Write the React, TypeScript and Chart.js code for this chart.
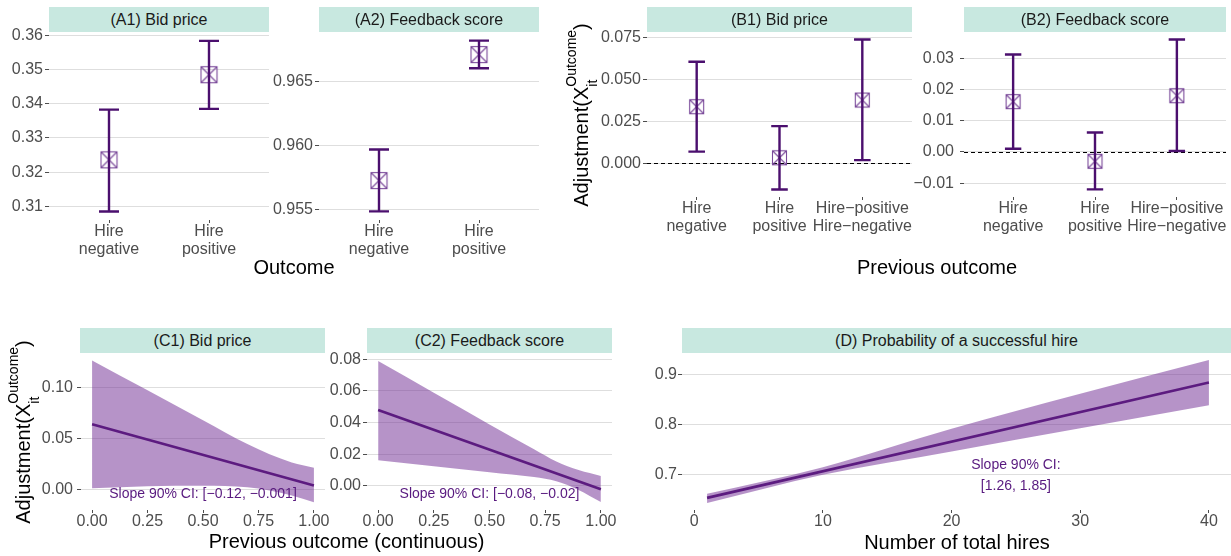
import React, { useEffect, useRef } from 'react';
import { Chart, registerables } from 'chart.js';

Chart.register(...registerables);

const FONT = "'Liberation Sans', Arial, Helvetica, sans-serif";
const PURPLE = '#4b0f6e';
const MARK = '#7a4a9a';
const BAND = 'rgba(110, 40, 145, 0.5)';
const NOTE = '#58197f';
const STRIP = '#c8e8e0';
const TICK_TEXT = '#4d4d4d';
const TICK_MARK = '#4d4d4d';
const GRID = '#dedede';

// ---- (A) value by outcome ----
const outcomeLabels = [['Hire', 'negative'], ['Hire', 'positive']];
const a1Est = [0.3236, 0.3485];
const a1Lo = [0.3085, 0.3385];
const a1Hi = [0.3383, 0.3584];
const a1Ticks = [0.31, 0.32, 0.33, 0.34, 0.35, 0.36];
const a2Est = [0.95727, 0.96709];
const a2Lo = [0.95487, 0.96602];
const a2Hi = [0.95969, 0.96818];
const a2Ticks = [0.955, 0.96, 0.965];

// ---- (B) adjustment by previous outcome ----
const prevLabels = [['Hire', 'negative'], ['Hire', 'positive'], ['Hire\u2212positive', 'Hire\u2212negative']];
const b1Est = [0.0339, 0.0034, 0.0379];
const b1Lo = [0.0071, -0.0155, 0.002];
const b1Hi = [0.0607, 0.0223, 0.074];
const b1Ticks = [0, 0.025, 0.05, 0.075];
const b2Est = [0.0161, -0.003, 0.018];
const b2Lo = [0.001, -0.012, 0.0003];
const b2Hi = [0.0312, 0.0062, 0.036];
const b2Ticks = [-0.01, 0, 0.01, 0.02, 0.03];

// ---- (C) adjustment vs continuous previous outcome ----
const contTicks = [0, 0.25, 0.5, 0.75, 1];
const c1LineX = [0, 1];
const c1Line = [0.064, 0.0039];
const c1BandX = [0, 0.25, 0.5, 0.7, 0.8, 0.9, 1];
const c1Upper = [0.1268, 0.0975, 0.068, 0.0445, 0.0345, 0.0265, 0.0212];
const c1Lower = [0.001, 0.003, 0.0035, 0.002, -0.001, -0.006, -0.0127];
const c1Ticks = [0, 0.05, 0.1];
const c2LineX = [0, 1];
const c2Line = [0.048, -0.0021];
const c2BandX = [0, 0.25, 0.5, 0.7, 0.8, 0.9, 1];
const c2Upper = [0.0789, 0.0589, 0.0389, 0.0232, 0.0155, 0.01, 0.0063];
const c2Lower = [0.0163, 0.0125, 0.0087, 0.0056, 0.003, -0.0025, -0.0102];
const c2Ticks = [0, 0.02, 0.04, 0.06, 0.08];

// ---- (D) probability of a successful hire ----
const dLineX = [1, 40];
const dLine = [0.6534, 0.8835];
const dBandX = [1, 10, 20, 30, 40];
const dUpper = [0.6614, 0.7145, 0.791, 0.861, 0.928];
const dLower = [0.6434, 0.6995, 0.746, 0.792, 0.838];
const dXTicks = [0, 10, 20, 30, 40];
const dYTicks = [0.7, 0.8, 0.9];

const PAD = 16;
const YW = 60;

const fmt = (v: number, dec: number) => v.toFixed(dec).replace('-', '\u2212');

function makeMarker(side: number) {
  const s = side + 3;
  const c = document.createElement('canvas');
  c.width = s;
  c.height = s;
  const g = c.getContext('2d')!;
  g.strokeStyle = MARK;
  g.lineWidth = 1.1;
  g.strokeRect(1.5, 1.5, s - 3, s - 3);
  g.beginPath();
  g.moveTo(1.5, 1.5);
  g.lineTo(s - 1.5, s - 1.5);
  g.moveTo(s - 1.5, 1.5);
  g.lineTo(1.5, s - 1.5);
  g.stroke();
  return c;
}

function yAxis(min: number, max: number, ticks: number[], dec: number, pad: number, tl: number) {
  return {
    type: 'linear',
    min,
    max,
    afterBuildTicks: (s: any) => {
      s.ticks = ticks.map((v) => ({ value: v }));
    },
    afterFit: (s: any) => {
      s.width = YW;
    },
    ticks: {
      autoSkip: false,
      padding: pad,
      color: TICK_TEXT,
      font: { family: FONT, size: 16 },
      callback: (v: number) => fmt(v, dec),
    },
    grid: { color: GRID, lineWidth: 1, drawTicks: true, tickLength: tl, tickColor: TICK_MARK },
    border: { display: false },
  };
}

function xAxis(min: number, max: number, ticks: number[], label: (v: number) => any, xH: number) {
  return {
    type: 'linear',
    min,
    max,
    afterBuildTicks: (s: any) => {
      s.ticks = ticks.map((v) => ({ value: v }));
    },
    afterFit: (s: any) => {
      s.height = xH;
    },
    ticks: {
      autoSkip: false,
      maxRotation: 0,
      minRotation: 0,
      padding: 0,
      color: TICK_TEXT,
      font: { family: FONT, size: 16, lineHeight: 1.1 },
      callback: (v: number) => label(v),
    },
    grid: { drawOnChartArea: false, drawTicks: true, tickLength: 3, tickColor: TICK_MARK },
    border: { display: false },
  };
}

const baseOptions = {
  animation: false,
  responsive: false,
  maintainAspectRatio: false,
  events: [],
  layout: { padding: PAD },
};

function errorBarConfig(o: any) {
  const marker = makeMarker(o.mark);
  const n = o.labels.length;
  const errorBars = {
    id: 'errorBars',
    afterDatasetsDraw(chart: any) {
      const { ctx, scales } = chart;
      const x = scales.x;
      const y = scales.y;
      ctx.save();
      ctx.strokeStyle = PURPLE;
      ctx.lineWidth = 2.4;
      ctx.lineCap = 'butt';
      o.lo.forEach((lo: number, i: number) => {
        const c = i + 1;
        const px = x.getPixelForValue(c);
        const x0 = x.getPixelForValue(c - 0.1);
        const x1 = x.getPixelForValue(c + 0.1);
        const yl = y.getPixelForValue(lo);
        const yh = y.getPixelForValue(o.hi[i]);
        ctx.beginPath();
        ctx.moveTo(px, yl);
        ctx.lineTo(px, yh);
        ctx.moveTo(x0, yl);
        ctx.lineTo(x1, yl);
        ctx.moveTo(x0, yh);
        ctx.lineTo(x1, yh);
        ctx.stroke();
      });
      ctx.restore();
    },
  };
  const zeroLine = {
    id: 'zeroLine',
    beforeDatasetsDraw(chart: any) {
      if (!o.zero) return;
      const { ctx, chartArea, scales } = chart;
      const py = Math.round(scales.y.getPixelForValue(0)) + 0.5;
      ctx.save();
      ctx.strokeStyle = '#000';
      ctx.lineWidth = 1;
      ctx.setLineDash([4, 3]);
      ctx.beginPath();
      ctx.moveTo(chartArea.left, py);
      ctx.lineTo(chartArea.right, py);
      ctx.stroke();
      ctx.restore();
    },
  };
  return {
    type: 'scatter',
    data: {
      datasets: [
        {
          data: o.est.map((v: number, i: number) => ({ x: i + 1, y: v })),
          pointStyle: marker,
          pointRadius: o.mark / 2,
          borderWidth: 0,
        },
      ],
    },
    options: {
      ...baseOptions,
      plugins: { legend: { display: false }, tooltip: { enabled: false } },
      scales: {
        x: xAxis(0.4, n + 0.6, o.labels.map((_: any, i: number) => i + 1), (v) => o.labels[Math.round(v) - 1], o.xH),
        y: yAxis(o.yMin, o.yMax, o.yTicks, o.dec, o.yPad, o.yTl),
      },
    },
    plugins: [zeroLine, errorBars],
  };
}

function bandConfig(o: any) {
  const notes = {
    id: 'notes',
    afterDatasetsDraw(chart: any) {
      const { ctx, scales } = chart;
      const px = scales.x.getPixelForValue(o.noteX);
      const py = scales.y.getPixelForValue(o.noteY);
      ctx.save();
      ctx.fillStyle = NOTE;
      ctx.font = `14px ${FONT}`;
      ctx.textAlign = 'center';
      ctx.textBaseline = 'middle';
      const k = o.note.length;
      o.note.forEach((t: string, i: number) => {
        ctx.fillText(t, px, py + (i - (k - 1) / 2) * 20.5);
      });
      ctx.restore();
    },
  };
  const pts = (xs: number[], ys: number[]) => xs.map((x, i) => ({ x, y: ys[i] }));
  return {
    type: 'line',
    data: {
      datasets: [
        {
          data: pts(o.bandX, o.lower),
          borderColor: 'rgba(0,0,0,0)',
          borderWidth: 0,
          pointRadius: 0,
          fill: false,
          cubicInterpolationMode: 'monotone',
        },
        {
          data: pts(o.bandX, o.upper),
          borderColor: 'rgba(0,0,0,0)',
          borderWidth: 0,
          pointRadius: 0,
          backgroundColor: BAND,
          fill: '-1',
          cubicInterpolationMode: 'monotone',
        },
        {
          data: pts(o.lineX, o.line),
          borderColor: PURPLE,
          borderWidth: 2.6,
          pointRadius: 0,
          fill: false,
        },
      ],
    },
    options: {
      ...baseOptions,
      plugins: { legend: { display: false }, tooltip: { enabled: false } },
      scales: {
        x: xAxis(o.xMin, o.xMax, o.xTicks, (v) => fmt(v, o.xDec), o.xH),
        y: yAxis(o.yMin, o.yMax, o.yTicks, o.yDec, o.yPad, o.yTl),
      },
    },
    plugins: [notes],
  };
}

type Box = { l: number; t: number; r: number; b: number };
type Spec = { box: Box; xH: number; strip: string; stripBox: Box; make: () => any };

const panels: Spec[] = [
  {
    box: { l: 49, t: 32, r: 269, b: 220 },
    xH: 46,
    strip: '(A1) Bid price',
    stripBox: { l: 49, t: 7, r: 269, b: 32 },
    make: () =>
      errorBarConfig({ labels: outcomeLabels, est: a1Est, lo: a1Lo, hi: a1Hi, yMin: 0.306, yMax: 0.361, yTicks: a1Ticks, dec: 2, mark: 16, xH: 46, yPad: 2, yTl: 4 }),
  },
  {
    box: { l: 319, t: 32, r: 539, b: 220 },
    xH: 46,
    strip: '(A2) Feedback score',
    stripBox: { l: 319, t: 7, r: 539, b: 32 },
    make: () =>
      errorBarConfig({ labels: outcomeLabels, est: a2Est, lo: a2Lo, hi: a2Hi, yMin: 0.9542, yMax: 0.96885, yTicks: a2Ticks, dec: 3, mark: 16, xH: 46, yPad: 2, yTl: 4 }),
  },
  {
    box: { l: 647, t: 32, r: 912, b: 197 },
    xH: 46,
    strip: '(B1) Bid price',
    stripBox: { l: 647, t: 7, r: 912, b: 32 },
    make: () =>
      errorBarConfig({ labels: prevLabels, est: b1Est, lo: b1Lo, hi: b1Hi, yMin: -0.02, yMax: 0.0785, yTicks: b1Ticks, dec: 3, mark: 14, xH: 46, yPad: 2, yTl: 4, zero: true }),
  },
  {
    box: { l: 964, t: 32, r: 1226, b: 197 },
    xH: 46,
    strip: '(B2) Feedback score',
    stripBox: { l: 964, t: 7, r: 1226, b: 32 },
    make: () =>
      errorBarConfig({ labels: prevLabels, est: b2Est, lo: b2Lo, hi: b2Hi, yMin: -0.01444, yMax: 0.0384, yTicks: b2Ticks, dec: 2, mark: 14, xH: 46, yPad: 6, yTl: 4, zero: true }),
  },
  {
    box: { l: 81, t: 352, r: 325, b: 510 },
    xH: 26,
    strip: '(C1) Bid price',
    stripBox: { l: 80, t: 328, r: 325, b: 353 },
    make: () =>
      bandConfig({
        bandX: c1BandX, upper: c1Upper, lower: c1Lower, lineX: c1LineX, line: c1Line,
        xMin: -0.05, xMax: 1.05, xTicks: contTicks, xDec: 2,
        yMin: -0.0203, yMax: 0.1351, yTicks: c1Ticks, yDec: 2, yPad: 4, yTl: 4, xH: 26,
        noteX: 0.5, noteY: -0.0046, note: ['Slope 90% CI: [\u22120.12, \u22120.001]'],
      }),
  },
  {
    box: { l: 367, t: 353, r: 612, b: 510 },
    xH: 26,
    strip: '(C2) Feedback score',
    stripBox: { l: 367, t: 328, r: 612, b: 353 },
    make: () =>
      bandConfig({
        bandX: c2BandX, upper: c2Upper, lower: c2Lower, lineX: c2LineX, line: c2Line,
        xMin: -0.05, xMax: 1.05, xTicks: contTicks, xDec: 2,
        yMin: -0.0152, yMax: 0.084, yTicks: c2Ticks, yDec: 2, yPad: 2, yTl: 4, xH: 26,
        noteX: 0.5, noteY: -0.005, note: ['Slope 90% CI: [\u22120.08, \u22120.02]'],
      }),
  },
  {
    box: { l: 682, t: 353, r: 1234, b: 510 },
    xH: 26,
    strip: '(D) Probability of a successful hire',
    stripBox: { l: 682, t: 328, r: 1231, b: 353 },
    make: () =>
      bandConfig({
        bandX: dBandX, upper: dUpper, lower: dLower, lineX: dLineX, line: dLine,
        xMin: -0.95, xMax: 41.95, xTicks: dXTicks, xDec: 0,
        yMin: 0.6292, yMax: 0.9422, yTicks: dYTicks, yDec: 1, yPad: 1, yTl: 4, xH: 26,
        noteX: 25, noteY: 0.698, note: ['Slope 90% CI:', '[1.26, 1.85]'],
      }),
  },
];

function Panel({ spec }: { spec: Spec }) {
  const ref = useRef<HTMLCanvasElement>(null);
  useEffect(() => {
    const chart = new Chart(ref.current as HTMLCanvasElement, spec.make());
    return () => chart.destroy();
  }, [spec]);
  const { l, t, r, b } = spec.box;
  const w = r - l + YW + 2 * PAD;
  const h = b - t + spec.xH + 2 * PAD;
  return (
    <canvas
      ref={ref}
      width={w}
      height={h}
      style={{ position: 'absolute', left: l - YW - PAD, top: t - PAD, width: w, height: h }}
    />
  );
}

function Strip({ text, box }: { text: string; box: Box }) {
  return (
    <div
      style={{
        position: 'absolute',
        left: box.l,
        top: box.t,
        width: box.r - box.l,
        height: box.b - box.t,
        background: STRIP,
        color: '#1a1a1a',
        font: `16px ${FONT}`,
        lineHeight: `${box.b - box.t}px`,
        textAlign: 'center',
        whiteSpace: 'nowrap',
      }}
    >
      {text}
    </div>
  );
}

function Title({ text, cx, cy }: { text: string; cx: number; cy: number }) {
  return (
    <div
      style={{
        position: 'absolute',
        left: cx - 200,
        top: cy - 10,
        width: 400,
        height: 20,
        textAlign: 'center',
        font: `20px ${FONT}`,
        lineHeight: '20px',
        color: '#000',
        whiteSpace: 'nowrap',
      }}
    >
      {text}
    </div>
  );
}

function YTitle({ cx, cy }: { cx: number; cy: number }) {
  return (
    <div
      style={{
        position: 'absolute',
        left: cx - 130,
        top: cy - 20,
        width: 260,
        height: 40,
        display: 'flex',
        alignItems: 'center',
        justifyContent: 'center',
        transform: 'rotate(-90deg)',
        font: `20px ${FONT}`,
        color: '#000',
        whiteSpace: 'nowrap',
      }}
    >
      <span style={{ lineHeight: '20px' }}>
        Adjustment(X
        <span style={{ display: 'inline-block', width: 0, fontSize: 14, lineHeight: '14px', position: 'relative', top: 9 }}>it</span>
        <span style={{ fontSize: 14, lineHeight: '14px', position: 'relative', top: -12 }}>Outcome</span>)
      </span>
    </div>
  );
}

export default function App() {
  return (
    <div
      style={{
        position: 'fixed',
        left: 0,
        top: 0,
        width: 1231,
        height: 556,
        overflow: 'hidden',
        background: '#ffffff',
        fontFamily: FONT,
      }}
    >
      {panels.map((p, i) => (
        <Panel key={i} spec={p} />
      ))}
      {panels.map((p, i) => (
        <Strip key={'s' + i} text={p.strip} box={p.stripBox} />
      ))}
      <Title text="Outcome" cx={294} cy={267} />
      <Title text="Previous outcome" cx={937} cy={267} />
      <Title text="Previous outcome (continuous)" cx={346.5} cy={541} />
      <Title text="Number of total hires" cx={957} cy={542} />
      <YTitle cx={581} cy={114.5} />
      <YTitle cx={22.5} cy={431.5} />
    </div>
  );
}
